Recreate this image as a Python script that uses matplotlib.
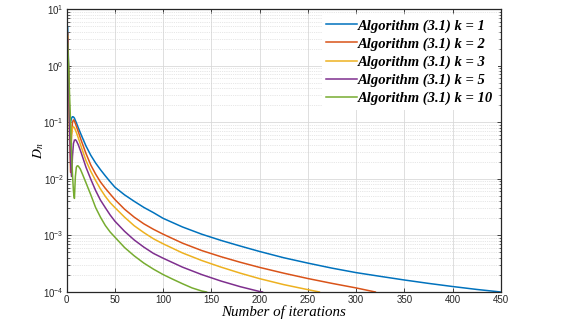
import numpy as np
import matplotlib
matplotlib.use('Agg')
import matplotlib.pyplot as plt
from matplotlib.ticker import LogLocator, NullFormatter

# ─── DATA ───────────────────────────────────────────────────────────────
x_k1 = [1, 2, 3, 4, 5, 6, 7, 8, 10, 12, 15, 20, 25, 30, 35, 40, 45, 50, 60, 70, 80, 90, 100,
        120, 140, 160, 180, 200, 225, 250, 275, 300, 325, 350, 375, 400, 425, 450]
y_k1 = [4.8, 0.9, 0.1, 0.1, 0.118, 0.125, 0.124, 0.118, 0.098, 0.08, 0.06, 0.038, 0.026,
        0.019, 0.0145, 0.0113, 0.0089, 0.0071, 0.0052, 0.0040, 0.00312, 0.00252, 0.0020,
        0.00141, 0.00105, 8.15e-4, 6.48e-4, 5.2e-4, 4.03e-4, 3.24e-4, 2.64e-4, 2.2e-4,
        1.89e-4, 1.63e-4, 1.42e-4, 1.25e-4, 1.11e-4, 1.0e-4]

x_k2 = [1, 2, 3, 4, 5, 6, 7, 8, 10, 12, 15, 20, 25, 30, 35, 40, 45, 50, 60, 70, 80, 90, 100,
        120, 140, 160, 180, 200, 225, 250, 275, 300, 320]
y_k2 = [3.8, 0.8, 0.1, 0.013, 0.06, 0.1, 0.11, 0.105, 0.085, 0.068, 0.048, 0.028, 0.0175,
        0.0121, 0.0088, 0.0068, 0.0054, 0.0043, 0.0029, 0.0021, 0.0016, 0.00128, 0.00105,
        7.3e-4, 5.4e-4, 4.2e-4, 3.35e-4, 2.72e-4, 2.15e-4, 1.73e-4, 1.42e-4, 1.18e-4, 1.0e-4]

x_k3 = [1, 2, 3, 4, 5, 6, 7, 8, 10, 12, 15, 20, 25, 30, 35, 40, 45, 50, 60, 70, 80, 90, 100,
        120, 140, 160, 180, 200, 225, 250, 262]
y_k3 = [3.3, 0.5, 0.05, 0.03, 0.06, 0.08, 0.083, 0.08, 0.066, 0.053, 0.037, 0.021, 0.0135,
        0.0093, 0.0066, 0.0049, 0.0038, 0.0031, 0.0021, 0.00148, 0.00112, 8.7e-4, 7.1e-4,
        4.9e-4, 3.6e-4, 2.75e-4, 2.15e-4, 1.72e-4, 1.35e-4, 1.1e-4, 1.0e-4]

x_k5 = [1, 2, 3, 4, 5, 6, 7, 8, 9, 10, 12, 15, 20, 25, 30, 35, 40, 45, 50, 60, 70, 80, 90,
        100, 120, 140, 160, 180, 200, 203]
y_k5 = [2.9, 0.6, 0.08, 0.02, 0.011, 0.025, 0.042, 0.048, 0.049, 0.047, 0.04, 0.029, 0.016,
        0.0098, 0.0062, 0.0042, 0.0031, 0.0023, 0.00178, 0.00118, 8.3e-4, 6.2e-4, 4.8e-4,
        3.95e-4, 2.75e-4, 2.03e-4, 1.56e-4, 1.24e-4, 1.02e-4, 1.0e-4]

x_k10 = [1, 2, 3, 4, 5, 6, 7, 8, 9, 10, 11, 12, 14, 16, 20, 25, 30, 35, 40, 45, 50, 60, 70,
         80, 90, 100, 110, 120, 130, 140, 145]
y_k10 = [2.5, 0.9, 0.3, 0.1, 0.03, 0.012, 0.006, 0.0045, 0.011, 0.016, 0.017, 0.0168, 0.015,
         0.0125, 0.0085, 0.0052, 0.0031, 0.0021, 0.0015, 0.00115, 9.3e-4, 6.1e-4, 4.35e-4,
         3.24e-4, 2.53e-4, 2.03e-4, 1.68e-4, 1.4e-4, 1.18e-4, 1.04e-4, 1.0e-4]

labels = ['Algorithm (3.1) k = 1', 'Algorithm (3.1) k = 2', 'Algorithm (3.1) k = 3',
          'Algorithm (3.1) k = 5', 'Algorithm (3.1) k = 10']
colors = ['#0072BD', '#D95319', '#EDB120', '#7E2F8E', '#77AC30']

series = [(x_k1, y_k1), (x_k2, y_k2), (x_k3, y_k3), (x_k5, y_k5), (x_k10, y_k10)]

# ─── PLOT ───────────────────────────────────────────────────────────────
plt.rcParams['font.family'] = ['Liberation Sans', 'DejaVu Sans']

fig = plt.figure(figsize=(5.72, 3.22), dpi=100)
ax = fig.add_axes([0.1166, 0.0932, 0.7588, 0.8788])

for (xs, ys), c, lab in zip(series, colors, labels):
    ax.plot(xs, ys, color=c, linewidth=1.1, label=lab)

ax.set_yscale('log')
ax.set_xlim(0, 450)
ax.set_ylim(1e-4, 10)
ax.set_xticks(np.arange(0, 451, 50))
ax.yaxis.set_major_locator(LogLocator(base=10, numticks=10))
ax.yaxis.set_minor_locator(LogLocator(base=10, subs=np.arange(2, 10), numticks=20))
ax.yaxis.set_minor_formatter(NullFormatter())

ax.grid(True, which='major', color='#d9d9d9', linewidth=0.6, linestyle='-')
ax.grid(True, which='minor', axis='y', color='#d0d0d0', linewidth=0.5, linestyle=':')
ax.set_axisbelow(True)

ax.tick_params(which='both', direction='in', top=True, right=True, colors='#262626',
               labelsize=7, pad=2)
ax.tick_params(which='major', length=3, width=0.6)
ax.tick_params(which='minor', length=1.8, width=0.5)
for s in ax.spines.values():
    s.set_edgecolor('#262626')
    s.set_linewidth(0.9)

ax.set_xlabel('Number of iterations', family='Liberation Serif', style='italic',
              fontsize=10.8, labelpad=0)
ax.set_ylabel(r'$D_n$', fontsize=10, math_fontfamily='stix', labelpad=-2)

leg = ax.legend(loc='upper right', bbox_to_anchor=(0.993, 0.98), borderaxespad=0,
                borderpad=0.3, frameon=True,
                facecolor='white', edgecolor='none', framealpha=1, fancybox=False,
                handlelength=2.1, handletextpad=0.1, labelspacing=0.32,
                prop={'family': 'Liberation Serif', 'style': 'italic', 'weight': 'bold',
                      'size': 10.5})

fig.savefig('out.png', dpi=100)
